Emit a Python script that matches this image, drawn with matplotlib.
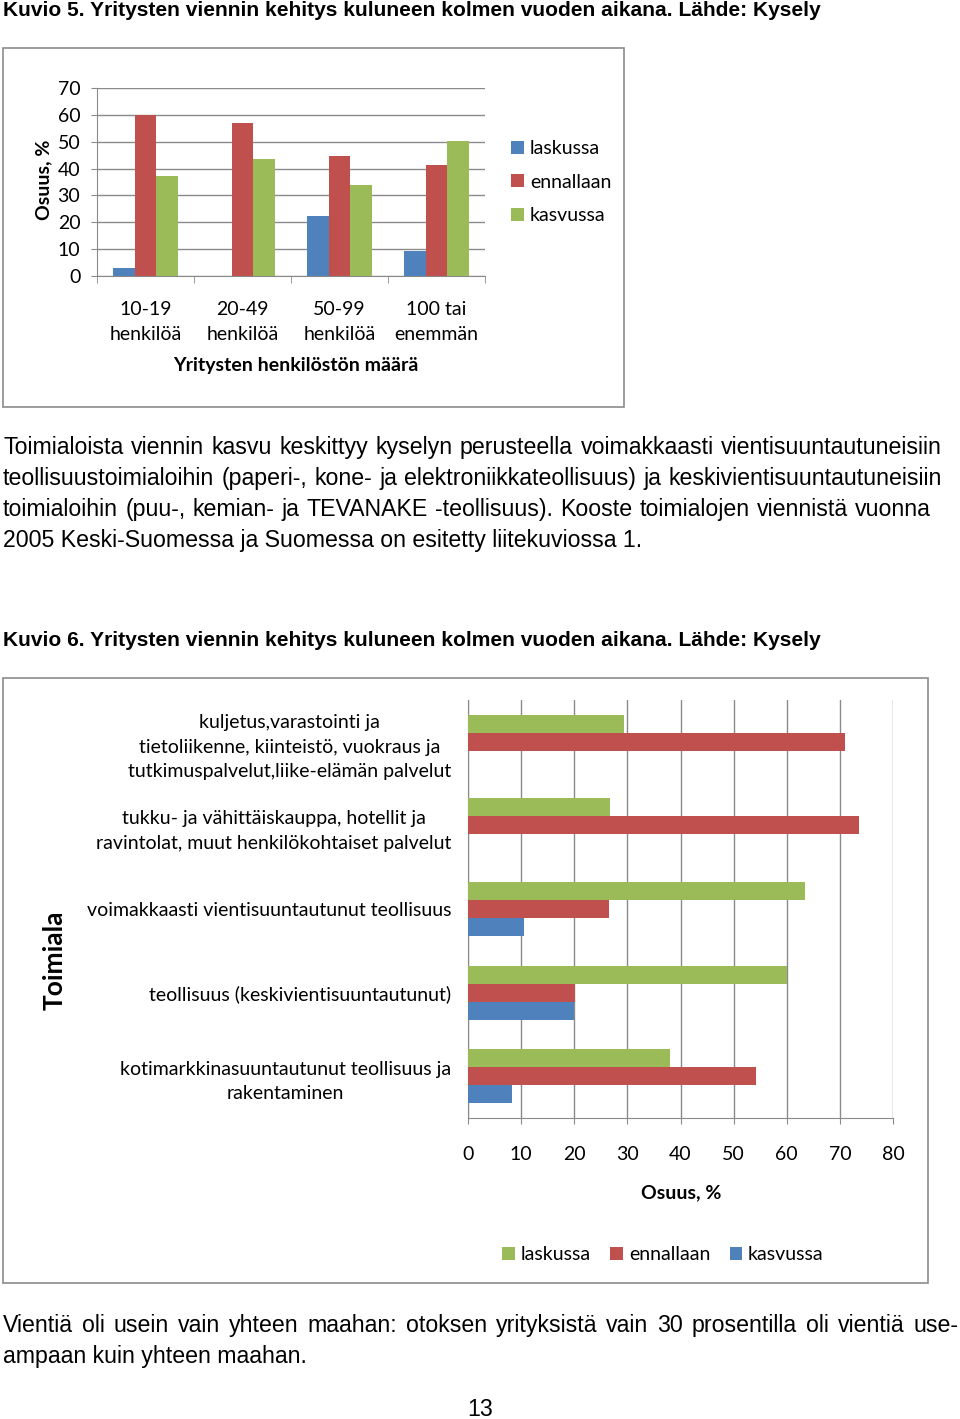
import matplotlib
matplotlib.use('Agg')
import matplotlib.pyplot as plt
from matplotlib.patches import Rectangle
import numpy as np

W, H = 960, 1419

# Kuvio 5 data
koko = ['10-19\nhenkilöä', '20-49\nhenkilöä', '50-99\nhenkilöä', '100 tai\nenemmän']
laskussa_5 = [3.0, 0.0, 22.5, 9.4]
ennallaan_5 = [60.0, 57.1, 44.5, 41.2]
kasvussa_5 = [37.3, 43.5, 33.8, 50.2]

# Kuvio 6 data
toimialat = ['kuljetus,varastointi ja\ntietoliikenne, kiinteistö, vuokraus ja\ntutkimuspalvelut,liike-elämän palvelut',
             'tukku- ja vähittäiskauppa, hotellit ja\nravintolat, muut henkilökohtaiset palvelut',
             'voimakkaasti vientisuuntautunut teollisuus',
             'teollisuus (keskivientisuuntautunut)',
             'kotimarkkinasuuntautunut teollisuus ja\nrakentaminen']
laskussa_6 = [29.4, 26.7, 63.5, 60.1, 38.1]
ennallaan_6 = [70.9, 73.6, 26.5, 20.1, 54.2]
kasvussa_6 = [0.0, 0.0, 10.6, 20.0, 8.2]

otsikko5 = 'Kuvio 5. Yritysten viennin kehitys kuluneen kolmen vuoden aikana. Lähde: Kysely'
otsikko6 = 'Kuvio 6. Yritysten viennin kehitys kuluneen kolmen vuoden aikana. Lähde: Kysely'
kappale1 = ['Toimialoista viennin kasvu keskittyy kyselyn perusteella voimakkaasti vientisuuntautuneisiin',
            'teollisuustoimialoihin (paperi-, kone- ja elektroniikkateollisuus) ja keskivientisuuntautuneisiin',
            'toimialoihin (puu-, kemian- ja TEVANAKE -teollisuus). Kooste toimialojen viennistä vuonna',
            '2005 Keski-Suomessa ja Suomessa on esitetty liitekuviossa 1.']
kappale2 = ['Vientiä oli usein vain yhteen maahan: otoksen yrityksistä vain 30 prosentilla oli vientiä use-',
            'ampaan kuin yhteen maahan.']

BLUE = '#4F81BD'
RED = '#C0504D'
GREEN = '#9BBB59'
GRID = '#8a8a8a'
CHART_FONT = ['Lato', 'DejaVu Sans']
BODY_FONT = ['Liberation Sans', 'DejaVu Sans']
CFS = 14

def fx(p):
    return p / W

def fy(p):
    return 1 - p / H

fig = plt.figure(figsize=(W / 100, H / 100), dpi=100)
fig.patch.set_facecolor('white')
renderer = fig.canvas.get_renderer()

def leveys(s, fs, weight='normal'):
    t = fig.text(0, 0, s, family=BODY_FONT, fontsize=fs, fontweight=weight)
    w = t.get_window_extent(renderer).width
    t.remove()
    return w

def rivi_teksti(s, y, fs, x=3):
    # y is the middle of the line, text placed on its baseline
    fig.text(fx(x), fy(y + 7), s, family=BODY_FONT, fontsize=fs, va='baseline', ha='left')

def tasattu(rivi, y, x0, x1, fs):
    # justified line: spread the words between x0 and x1
    sanat = rivi.split(' ')
    ws = [leveys(s, fs) for s in sanat]
    rako = (x1 - x0 - sum(ws)) / (len(sanat) - 1)
    x = x0
    for s, w in zip(sanat, ws):
        rivi_teksti(s, y, fs, x)
        x += w + rako

# ---- page text ----
ofs = 17 * 821 / leveys(otsikko5, 17, 'bold')
fig.text(fx(3), fy(11), otsikko5, family=BODY_FONT, fontsize=ofs, fontweight='bold', va='center', ha='left')
fig.text(fx(3), fy(640), otsikko6, family=BODY_FONT, fontsize=ofs, fontweight='bold', va='center', ha='left')

bfs = 18 * 936 / max(leveys(r, 18) for r in kappale1[:3])
loput = [942, 942, 931]
for i, rivi in enumerate(kappale1):
    if i < len(kappale1) - 1:
        tasattu(rivi, 447 + 31 * i, 3, loput[i], bfs)
    else:
        rivi_teksti(rivi, 447 + 31 * i, bfs)

tasattu(kappale2[0], 1325, 3, 958, bfs)
rivi_teksti(kappale2[1], 1356, bfs)

fig.text(fx(480), fy(1409), '13', family=BODY_FONT, fontsize=bfs, va='center', ha='center')

# frames around the charts
for (x0, y0, x1, y1) in [(3, 48, 624, 407), (3, 678, 928, 1283)]:
    fig.patches.append(Rectangle((fx(x0), fy(y1)), fx(x1) - fx(x0), fy(y0) - fy(y1),
                                 transform=fig.transFigure, fill=False, edgecolor='#8c8c8c', lw=1.2))

# ---- Kuvio 5: column chart ----
ax1 = fig.add_axes([fx(97), fy(276), fx(485) - fx(97), fy(88) - fy(276)])
x = np.arange(len(koko))
bw = 0.22
ax1.bar(x - bw, laskussa_5, bw, color=BLUE, label='laskussa', zorder=3)
ax1.bar(x, ennallaan_5, bw, color=RED, label='ennallaan', zorder=3)
ax1.bar(x + bw, kasvussa_5, bw, color=GREEN, label='kasvussa', zorder=3)
ax1.set_xlim(-0.5, len(koko) - 0.5)
ax1.set_ylim(0, 70)
ax1.set_yticks(range(0, 71, 10))
ax1.yaxis.grid(True, color=GRID, lw=1, zorder=0)
ax1.set_xticks(x)
ax1.set_xticklabels(koko, family=CHART_FONT, fontsize=CFS, linespacing=1.55)
ax1.set_xticks(np.arange(-0.5, len(koko), 1), minor=True)
ax1.tick_params(axis='x', which='major', length=0, pad=18)
ax1.tick_params(axis='x', which='minor', length=5, color=GRID, direction='out')
ax1.tick_params(axis='y', length=4, color=GRID, pad=8, labelsize=CFS)
for lab in ax1.get_yticklabels():
    lab.set_family(CHART_FONT)
for s in ['top', 'right']:
    ax1.spines[s].set_visible(False)
for s in ['left', 'bottom']:
    ax1.spines[s].set_color(GRID)
ax1.set_facecolor('none')

fig.text(fx(296), fy(366), 'Yritysten henkilöstön määrä', family=CHART_FONT, fontsize=CFS,
         fontweight='bold', ha='center', va='center')
fig.text(fx(44), fy(180), 'Osuus, %', family=CHART_FONT, fontsize=CFS, fontweight='bold',
         rotation=90, ha='center', va='center')

ax1.legend(loc='center left', bbox_to_anchor=(fx(494), fy(182)), bbox_transform=fig.transFigure,
           frameon=False, prop={'family': CHART_FONT, 'size': CFS}, handlelength=0.65, handleheight=0.65,
           handletextpad=0.3, labelspacing=0.85)

# ---- Kuvio 6: horizontal bar chart ----
ax2 = fig.add_axes([fx(468), fy(1118), fx(893) - fx(468), fy(700) - fy(1118)])
y = np.arange(len(toimialat))
bh = 0.215
ax2.barh(y - bh, laskussa_6, bh, color=GREEN, label='laskussa', zorder=3)
ax2.barh(y, ennallaan_6, bh, color=RED, label='ennallaan', zorder=3)
ax2.barh(y + bh, kasvussa_6, bh, color=BLUE, label='kasvussa', zorder=3)
ax2.set_ylim(len(toimialat) - 0.5, -0.5)
ax2.set_xlim(0, 80)
ax2.set_xticks(range(0, 81, 10))
ax2.xaxis.grid(True, color=GRID, lw=1, zorder=0)
ax2.set_yticks(y)
ax2.set_yticklabels(toimialat, family=CHART_FONT, fontsize=CFS, linespacing=1.55)
for lab in ax2.get_yticklabels():
    lab.set_multialignment('center')
ax2.tick_params(axis='y', length=0, pad=12)
ax2.tick_params(axis='x', length=4, color=GRID, pad=16, labelsize=CFS)
for lab in ax2.get_xticklabels():
    lab.set_family(CHART_FONT)
for s in ['top', 'right']:
    ax2.spines[s].set_visible(False)
for s in ['left', 'bottom']:
    ax2.spines[s].set_color(GRID)
ax2.set_facecolor('none')

fig.text(fx(681), fy(1193), 'Osuus, %', family=CHART_FONT, fontsize=CFS, fontweight='bold',
         ha='center', va='center')
fig.text(fx(55), fy(960), 'Toimiala', family=CHART_FONT, fontsize=19, fontweight='bold',
         rotation=90, ha='center', va='center')

fig.legend(*ax2.get_legend_handles_labels(), loc='center', bbox_to_anchor=(fx(663), fy(1255)),
           ncol=3, frameon=False, prop={'family': CHART_FONT, 'size': CFS}, handlelength=0.65,
           handleheight=0.65, handletextpad=0.3, columnspacing=1.0)

fig.savefig('out.png', dpi=100, facecolor='white')
